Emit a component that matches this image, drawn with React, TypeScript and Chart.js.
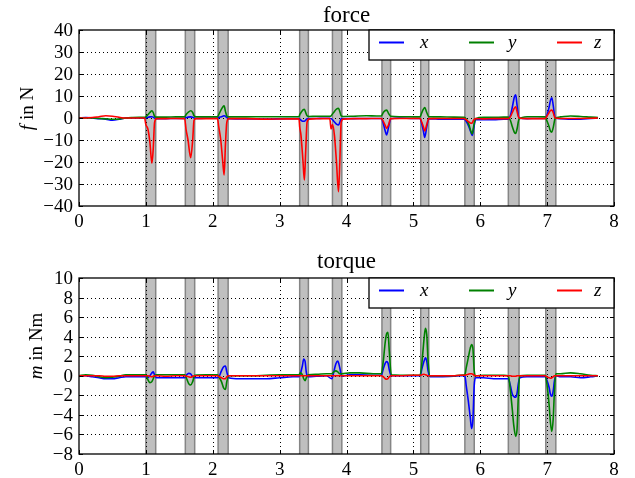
import React, { useEffect, useRef } from "react";
import { Chart, registerables } from "chart.js";

Chart.register(...registerables);

// ---------- shared ----------
const xTicks = [0, 1, 2, 3, 4, 5, 6, 7, 8];
const bandStart = [1.0, 1.59, 2.08, 3.3, 3.79, 4.53, 5.11, 5.77, 6.42, 6.98];
const bandEnd = [1.147, 1.73, 2.23, 3.43, 3.93, 4.66, 5.23, 5.91, 6.58, 7.13];
const seriesNames = ["x", "y", "z"];
const seriesColors = ["#0000ff", "#008000", "#ff0000"];

// ---------- force ----------
const forceTicks = [-40, -30, -20, -10, 0, 10, 20, 30, 40];
const forceT = [
  0, 0.1, 0.2, 0.3, 0.4, 0.5, 0.6, 0.7, 0.8, 0.9, 0.98,
  1.0, 1.03, 1.06, 1.09, 1.11, 1.13, 1.16,
  1.3, 1.45,
  1.58, 1.6, 1.63, 1.67, 1.7, 1.72, 1.75,
  1.9,
  2.07, 2.09, 2.12, 2.15, 2.17, 2.19, 2.21, 2.24,
  2.5, 2.8, 3.1,
  3.29, 3.3, 3.32, 3.35, 3.37, 3.39, 3.41, 3.44,
  3.55, 3.65,
  3.75, 3.77, 3.79, 3.82, 3.85, 3.88, 3.9, 3.92, 3.95,
  4.1, 4.3, 4.45,
  4.52, 4.55, 4.58, 4.6, 4.63, 4.66,
  4.8, 5.0,
  5.1, 5.12, 5.15, 5.17, 5.2, 5.23,
  5.4, 5.6,
  5.76, 5.79, 5.83, 5.86, 5.88, 5.9, 5.93,
  6.05, 6.2, 6.35,
  6.42, 6.45, 6.48, 6.51, 6.53, 6.55, 6.58,
  6.7, 6.85,
  6.97, 7.0, 7.03, 7.05, 7.07, 7.09, 7.12,
  7.2, 7.35, 7.5, 7.65, 7.76,
];
const forceX = [
  0, 0.2, 0, -0.3, -0.5, -1.0, -0.6, 0, 0, 0, 0,
  0, 0.3, 0.5, 0.6, 0.4, 0, -0.3,
  -0.3, -0.2,
  -0.2, 0.2, 0.4, 0.5, 0.3, 0, -0.2,
  -0.1,
  -0.1, 0.2, 0.5, 0.8, 1.0, 0.8, 0.2, -0.3,
  -0.4, -0.5, -0.3,
  -0.3, -0.5, -1, -1.5, -1.5, -1, -0.3, -0.2,
  -0.2, -0.1,
  -0.1, -0.3, -0.8, -1.8, -2.8, -3.2, -2, -0.3, -0.2,
  -0.3, -0.2, -0.2,
  -0.2, -2.5, -6, -7.7, -4, -0.3,
  0, -0.2,
  -0.2, -2, -6, -8.8, -4, -0.3,
  -0.5, -0.6,
  -0.6, -1.5, -4, -6.5, -7.9, -5, -0.8,
  -0.8, -0.8, -0.6,
  -0.5, 1, 5, 9.5, 10.5, 6, 0,
  -0.3, -0.2,
  -0.2, 1.5, 5, 8, 9.2, 6, 0,
  -0.3, -0.5, -0.5, -0.2, 0,
];
const forceY = [
  0, 0, 0, -0.2, -0.4, -0.6, -0.5, 0, 0.2, 0.3, 0.3,
  0.5, 1.5, 2.5, 3.3, 2.5, 0.8, 0.4,
  0.4, 0.5,
  0.5, 1.5, 2.5, 3.3, 2.5, 1, 0.5,
  0.5,
  0.5, 1.5, 3.5, 5, 5.5, 3, 1, 0.5,
  0.5, 0.6, 0.6,
  0.6, 1.5, 2.5, 3.7, 4, 2.5, 1, 0.7,
  0.8, 0.8,
  0.8, 1.0, 1.8, 3, 4, 4.4, 3, 1, 0.7,
  0.8, 1.0, 0.9,
  0.9, 2.5, 3.4, 3.6, 2, 0.8,
  0.6, 0.5,
  0.5, 2, 4, 4.7, 2.5, 0.6,
  0.5, 0.4,
  0.3, -0.5, -3, -6, -7.2, -4, -0.3,
  0.3, 0.3, 0.4,
  0.4, -1, -4, -6.5, -7, -5, -0.5,
  0.6, 0.6,
  0.5, -1.5, -4, -6, -6.4, -4.5, -0.3,
  0.5, 0.9, 0.7, 0.4, 0.2,
];
const forceZ = [
  0, 0, 0.2, 0.6, 1.0, 0.8, 0.3, 0, 0, 0, 0,
  -3, -5, -11, -20.6, -14, -2, -0.3,
  -0.3, -0.2,
  -0.3, -5, -10, -18, -10, -1, -0.3,
  -0.3,
  -0.3, -4, -10, -20, -25.9, -12, -2, -0.3,
  -0.3, -0.5, -0.4,
  -0.4, -4, -8, -20, -28.2, -15, -2, -0.5,
  -0.3, -0.3,
  -0.3, -5, -3, -8, -20, -33.5, -20, -2, -0.5,
  -0.3, -0.3, -0.2,
  -0.2, -1.5, -3.5, -4.7, -3, -0.3,
  -0.2, -0.2,
  -0.2, -1.5, -4, -5.9, -3, -0.3,
  -0.2, -0.2,
  -0.2, -0.8, -1.8, -2.4, -2.2, -1, -0.3,
  -0.4, -0.3, -0.3,
  -0.3, 0.5, 2.5, 4.5, 5.1, 3, 0,
  -0.3, -0.3,
  -0.3, 1, 2.5, 3.4, 3.6, 2.5, 0,
  -0.2, -0.2, -0.2, -0.1, 0,
];

// ---------- torque ----------
const torqueTicks = [-8, -6, -4, -2, 0, 2, 4, 6, 8, 10];
const torqueT = [
  0, 0.1, 0.2, 0.3, 0.4, 0.5, 0.6, 0.7, 0.8, 0.9, 0.98,
  1.0, 1.03, 1.06, 1.09, 1.11, 1.13, 1.16,
  1.3, 1.45,
  1.58, 1.61, 1.64, 1.67, 1.7, 1.73,
  1.9,
  2.07, 2.1, 2.13, 2.16, 2.19, 2.21, 2.24,
  2.4, 2.6, 2.8, 3.0, 3.2,
  3.29, 3.31, 3.34, 3.36, 3.38, 3.4, 3.43,
  3.55, 3.7,
  3.78, 3.81, 3.84, 3.87, 3.9, 3.93,
  4.05, 4.2, 4.4,
  4.52, 4.55, 4.58, 4.6, 4.62, 4.64, 4.67,
  4.8, 5.0,
  5.1, 5.13, 5.16, 5.18, 5.2, 5.22, 5.25,
  5.4, 5.6, 5.7,
  5.77, 5.79, 5.82, 5.85, 5.87, 5.89, 5.91, 5.93,
  6.05, 6.2, 6.35,
  6.42, 6.45, 6.48, 6.5, 6.53, 6.55, 6.57, 6.59,
  6.7, 6.85,
  6.97, 7.0, 7.03, 7.05, 7.07, 7.09, 7.11, 7.13,
  7.2, 7.35, 7.5, 7.65, 7.76,
];
const torqueX = [
  0, 0, -0.1, -0.2, -0.3, -0.3, -0.2, -0.1, -0.1, -0.1, -0.1,
  -0.1, -0.2, 0, 0.3, 0.4, 0.1, -0.2,
  -0.2, -0.2,
  -0.2, 0.1, 0.25, 0.2, -0.1, -0.2,
  -0.2,
  -0.2, 0, 0.5, 0.9, 1.0, 0.4, -0.2,
  -0.3, -0.3, -0.3, -0.2, -0.1,
  -0.1, 0.2, 1.0, 1.7, 1.5, 0.3, -0.1,
  -0.05, 0,
  -0.3, 0.4, 1.2, 1.5, 0.8, -0.05,
  0.1, 0.1, 0.05,
  0.05, 0.7, 1.3, 1.45, 1.3, 0.6, 0,
  0, 0,
  0, 0.8, 1.5, 1.85, 1.5, 0.5, -0.1,
  -0.1, -0.05, 0,
  0, -1.0, -2.5, -4.2, -5.4, -4.5, -1, -0.2,
  -0.2, -0.3, -0.3,
  -0.3, -1.0, -1.9, -2.1, -2.2, -1.8, -0.8, -0.2,
  -0.1, -0.1,
  -0.1, -0.5, -1.2, -1.9, -2.1, -1.6, -0.5, 0,
  -0.1, -0.1, -0.2, -0.1, 0,
];
const torqueY = [
  0, 0.1, 0.05, -0.1, -0.2, -0.15, -0.05, 0.1, 0.1, 0.1, 0.1,
  0.1, -0.4, -0.7, -0.6, -0.3, 0, 0.1,
  0.1, 0.1,
  0.1, -0.3, -0.8, -0.95, -0.6, 0.05,
  0.1,
  0.1, -0.2, -0.6, -1.2, -1.4, -0.6, 0,
  0, 0, 0.05, 0.1, 0.1,
  0.1, 0.3, 0.1, -0.3, -0.5, -0.2, 0.1,
  0.15, 0.2,
  0.2, 0.4, 0.5, 0.4, 0.2, 0.2,
  0.3, 0.3, 0.2,
  0.2, 1.5, 3.5, 4.3, 4.45, 2.5, 0.1,
  0.05, 0.05,
  0.05, 1.5, 3.8, 4.85, 4.2, 1.5, 0,
  0, 0, 0.05,
  0.1, 0.8, 1.8, 2.8, 3.2, 2.8, 0.5, 0,
  0.05, 0.05, 0.05,
  0, -1.5, -3.5, -5, -6.2, -5.5, -2, 0,
  0.05, 0.05,
  0.05, -1, -3, -4.8, -5.7, -4.5, -1.5, 0.2,
  0.2, 0.3, 0.2, 0.05, 0,
];
const torqueZ = [
  0, 0, 0, 0, -0.05, -0.05, 0, 0, 0, 0, 0,
  0, 0, -0.05, -0.1, -0.05, 0, 0,
  -0.05, 0,
  0, -0.05, -0.1, -0.15, -0.05, 0,
  0,
  0, -0.1, -0.2, -0.3, -0.3, -0.1, 0,
  0, 0, 0, 0, 0,
  0, 0, 0, 0, 0, 0, 0,
  0, 0,
  0, 0, 0, 0, 0, 0,
  0, 0, 0,
  0, -0.1, -0.3, -0.35, -0.3, -0.1, 0,
  0, 0.05,
  0.05, 0.1, 0.15, 0.1, 0.05, 0, 0,
  0, 0, 0.05,
  0.05, 0.1, 0.15, 0.2, 0.2, 0.15, 0.05, 0,
  0, 0, 0,
  0, 0, -0.05, -0.05, -0.05, 0, 0, 0,
  0, 0,
  0, -0.1, -0.2, -0.25, -0.2, -0.1, 0, 0,
  0, 0, 0, 0, 0,
];

const SERIF = "'Liberation Serif', 'Times New Roman', serif";

type Spec = {
  title: string;
  titleOffset: number;
  labelItalic: string;
  labelRest: string;
  labelX: number;
  labelY: number;
  yTicks: number[];
  t: number[];
  series: number[][];
  padTop: number;
  padBottom: number;
  height: number;
  top: number;
};

const fmt = (v: number) => (v < 0 ? "\u2212" + Math.abs(v) : String(v));

function makePlugin(spec: Spec) {
  return {
    id: "mplStyle",
    beforeDatasetsDraw(chart: any) {
      const ctx = chart.ctx as CanvasRenderingContext2D;
      const a = chart.chartArea;
      const xs = chart.scales.x;
      const ys = chart.scales.y;
      ctx.save();
      // bands
      for (let i = 0; i < bandStart.length; i++) {
        const x0 = xs.getPixelForValue(bandStart[i]);
        const x1 = xs.getPixelForValue(bandEnd[i]);
        ctx.fillStyle = "#bfbfbf";
        ctx.fillRect(x0, a.top, x1 - x0, a.bottom - a.top);
        ctx.strokeStyle = "#858585";
        ctx.lineWidth = 1.5;
        ctx.beginPath();
        ctx.moveTo(x0, a.top);
        ctx.lineTo(x0, a.bottom);
        ctx.moveTo(x1, a.top);
        ctx.lineTo(x1, a.bottom);
        ctx.stroke();
      }
      // grid
      ctx.strokeStyle = "#000";
      ctx.lineWidth = 1;
      ctx.setLineDash([1, 3]);
      ctx.beginPath();
      for (const v of xTicks) {
        if (v === xTicks[0] || v === xTicks[xTicks.length - 1]) continue;
        const px = Math.round(xs.getPixelForValue(v)) + 0.5;
        ctx.moveTo(px, a.top);
        ctx.lineTo(px, a.bottom);
      }
      for (const v of spec.yTicks) {
        if (v === spec.yTicks[0] || v === spec.yTicks[spec.yTicks.length - 1]) continue;
        const py = Math.round(ys.getPixelForValue(v)) + 0.5;
        ctx.moveTo(a.left, py);
        ctx.lineTo(a.right, py);
      }
      ctx.stroke();
      ctx.restore();
    },
    afterDraw(chart: any) {
      const ctx = chart.ctx as CanvasRenderingContext2D;
      const a = chart.chartArea;
      const xs = chart.scales.x;
      const ys = chart.scales.y;
      ctx.save();
      // frame
      ctx.strokeStyle = "#000";
      ctx.lineWidth = 1.3;
      ctx.strokeRect(a.left, a.top, a.right - a.left, a.bottom - a.top);
      // inward ticks
      ctx.lineWidth = 1;
      ctx.beginPath();
      for (const v of xTicks) {
        const px = Math.round(xs.getPixelForValue(v)) + 0.5;
        ctx.moveTo(px, a.bottom);
        ctx.lineTo(px, a.bottom - 4);
        ctx.moveTo(px, a.top);
        ctx.lineTo(px, a.top + 4);
      }
      for (const v of spec.yTicks) {
        const py = Math.round(ys.getPixelForValue(v)) + 0.5;
        ctx.moveTo(a.left, py);
        ctx.lineTo(a.left + 4, py);
        ctx.moveTo(a.right, py);
        ctx.lineTo(a.right - 4, py);
      }
      ctx.stroke();
      // tick labels
      ctx.fillStyle = "#000";
      ctx.font = `19px ${SERIF}`;
      ctx.textBaseline = "alphabetic";
      ctx.textAlign = "center";
      for (const v of xTicks) {
        ctx.fillText(fmt(v), xs.getPixelForValue(v), a.bottom + 20.5);
      }
      ctx.textAlign = "right";
      for (const v of spec.yTicks) {
        ctx.fillText(fmt(v), a.left - 6, ys.getPixelForValue(v) + 6);
      }
      // title
      ctx.textAlign = "center";
      ctx.font = `23px ${SERIF}`;
      ctx.fillText(spec.title, (a.left + a.right) / 2, a.top - spec.titleOffset);
      // y label
      ctx.save();
      ctx.translate(spec.labelX, spec.labelY);
      ctx.rotate(-Math.PI / 2);
      ctx.textAlign = "left";
      ctx.font = `italic 19px ${SERIF}`;
      const w1 = ctx.measureText(spec.labelItalic).width;
      ctx.font = `19px ${SERIF}`;
      const w2 = ctx.measureText(spec.labelRest).width;
      const x0 = -(w1 + w2) / 2;
      ctx.font = `italic 19px ${SERIF}`;
      ctx.fillText(spec.labelItalic, x0, 0);
      ctx.font = `19px ${SERIF}`;
      ctx.fillText(spec.labelRest, x0 + w1, 0);
      ctx.restore();
      // legend
      const lx = 369;
      const lt = a.top;
      ctx.fillStyle = "#fff";
      ctx.fillRect(lx, lt, a.right - lx, 30);
      ctx.strokeStyle = "#000";
      ctx.lineWidth = 1.3;
      ctx.strokeRect(lx, lt, a.right - lx, 30);
      const lineStarts = [379, 469, 557];
      const textStarts = [420, 508, 594];
      ctx.font = `italic 19px ${SERIF}`;
      ctx.textAlign = "left";
      for (let i = 0; i < 3; i++) {
        ctx.strokeStyle = seriesColors[i];
        ctx.lineWidth = 2;
        ctx.beginPath();
        ctx.moveTo(lineStarts[i], lt + 12.5);
        ctx.lineTo(lineStarts[i] + 25, lt + 12.5);
        ctx.stroke();
        ctx.fillStyle = "#000";
        ctx.fillText(seriesNames[i], textStarts[i], lt + 18);
      }
      ctx.restore();
    },
  };
}

function Panel({ spec }: { spec: Spec }) {
  const ref = useRef<HTMLCanvasElement>(null);
  useEffect(() => {
    const canvas = ref.current;
    if (!canvas) return;
    const order = [3, 2, 1];
    const chart = new Chart(canvas, {
      type: "line",
      data: {
        datasets: spec.series.map((vals, si) => ({
          label: seriesNames[si],
          data: spec.t.map((t, i) => ({ x: t, y: vals[i] })),
          borderColor: seriesColors[si],
          backgroundColor: seriesColors[si],
          borderWidth: 1.6,
          pointRadius: 0,
          cubicInterpolationMode: "monotone" as const,
          fill: false,
          order: order[si],
        })),
      },
      options: {
        animation: false,
        responsive: false,
        devicePixelRatio: 1,
        events: [],
        layout: {
          padding: { left: 79, right: 21, top: spec.padTop, bottom: spec.padBottom },
        },
        plugins: {
          legend: { display: false },
          tooltip: { enabled: false },
          title: { display: false },
        },
        scales: {
          x: { type: "linear", display: false, min: 0, max: 8 },
          y: {
            type: "linear",
            display: false,
            min: spec.yTicks[0],
            max: spec.yTicks[spec.yTicks.length - 1],
          },
        },
      },
      plugins: [makePlugin(spec)],
    } as any);
    return () => chart.destroy();
  }, [spec]);
  return (
    <canvas
      ref={ref}
      width={635}
      height={spec.height}
      style={{ position: "absolute", left: 0, top: spec.top, width: 635, height: spec.height }}
    />
  );
}

const forceSpec: Spec = {
  title: "force",
  titleOffset: 8.5,
  labelItalic: "f",
  labelRest: " in N",
  labelX: 33,
  labelY: 108.5,
  yTicks: forceTicks,
  t: forceT,
  series: [forceX, forceY, forceZ],
  padTop: 30,
  padBottom: 34,
  height: 240,
  top: 0,
};

const torqueSpec: Spec = {
  title: "torque",
  titleOffset: 10.5,
  labelItalic: "m",
  labelRest: " in Nm",
  labelX: 41.5,
  labelY: 346 - 240,
  yTicks: torqueTicks,
  t: torqueT,
  series: [torqueX, torqueY, torqueZ],
  padTop: 38,
  padBottom: 24,
  height: 238,
  top: 240,
};

export default function App() {
  return (
    <div
      style={{
        position: "fixed",
        left: 0,
        top: 0,
        width: 635,
        height: 478,
        background: "#fff",
        overflow: "hidden",
      }}
    >
      <Panel spec={forceSpec} />
      <Panel spec={torqueSpec} />
    </div>
  );
}
